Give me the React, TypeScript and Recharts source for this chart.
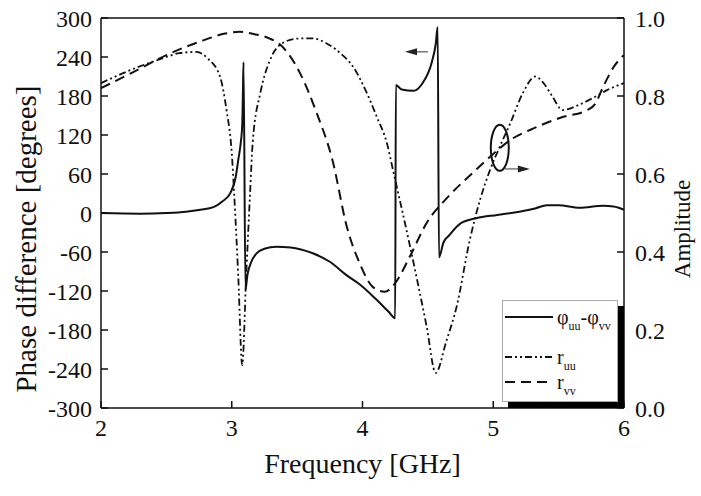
import React from "react";
import { LineChart, Line, XAxis, YAxis, Legend, ReferenceLine, ReferenceDot } from "recharts";

// ── data ───────────────────────────────────────────────────────────────────
const phaseFreq = [
  2.0, 2.3, 2.5, 2.65, 2.76, 2.86, 2.93, 2.99, 3.03, 3.05, 3.07, 3.08, 3.085, 3.09,
  3.105, 3.12, 3.15, 3.19, 3.25, 3.34, 3.45, 3.62, 3.75, 3.88, 3.98, 4.1, 4.2, 4.25,
  4.255, 4.3, 4.39, 4.46, 4.53, 4.56, 4.575, 4.585, 4.62, 4.66, 4.75, 4.87, 5.03,
  5.2, 5.32, 5.41, 5.5, 5.66, 5.84, 5.92, 6.0,
];
const phaseDeg = [
  0, -1, 0, 2, 5, 9, 18, 31, 55, 82, 110, 135, 180, 232,
  -118, -95, -75, -62, -55, -52, -53, -62, -75, -96, -110, -132, -152, -162,
  197, 190, 188, 200, 232, 260, 286, -68, -45, -35, -16, -8, -3,
  2, 7, 12, 12, 8, 11, 10, 5,
];

const ruuFreq = [
  2.0, 2.2, 2.37, 2.5, 2.6, 2.73, 2.82, 2.91, 2.96, 3.0, 3.02, 3.05, 3.08, 3.11, 3.14,
  3.16, 3.22, 3.29, 3.39, 3.5, 3.61, 3.67, 3.75, 3.83, 3.93, 4.03, 4.11, 4.19, 4.23,
  4.36, 4.49, 4.56, 4.64, 4.72, 4.82, 4.9, 4.975, 5.05, 5.13, 5.23, 5.32, 5.38, 5.45,
  5.53, 5.66, 5.79, 5.87, 6.0,
];
const ruuAmp = [
  0.833, 0.863, 0.885, 0.9, 0.91, 0.913, 0.895, 0.85, 0.764, 0.654, 0.54, 0.336, 0.11,
  0.336, 0.55, 0.68, 0.81, 0.89, 0.936, 0.947, 0.948, 0.944, 0.93, 0.91, 0.874, 0.81,
  0.746, 0.675, 0.615, 0.42, 0.21, 0.09, 0.17, 0.26, 0.43, 0.535, 0.61, 0.67, 0.73,
  0.81, 0.85, 0.835, 0.8, 0.764, 0.778, 0.8, 0.815, 0.833,
];

const rvvFreq = [
  2.0, 2.25, 2.5, 2.76, 2.95, 3.06, 3.15, 3.27, 3.37, 3.52, 3.65, 3.77, 3.88, 3.98, 4.08,
  4.17, 4.25, 4.36, 4.49, 4.65, 4.85, 4.975, 5.13, 5.33, 5.53, 5.72, 5.78, 5.84, 5.92,
  6.0,
];
const rvvAmp = [
  0.82, 0.862, 0.905, 0.94, 0.96, 0.965, 0.96, 0.95, 0.932, 0.86, 0.756, 0.636, 0.465,
  0.37, 0.31, 0.298, 0.32, 0.387, 0.474, 0.54, 0.605, 0.644, 0.687, 0.72, 0.746, 0.764,
  0.78, 0.823, 0.874, 0.905,
];

const freqTicks = [2, 3, 4, 5, 6];
const phaseTicks = [-300, -240, -180, -120, -60, 0, 60, 120, 180, 240, 300];
const ampTicks = [0, 0.2, 0.4, 0.6, 0.8, 1.0];

const phaseData = phaseFreq.map((f, i) => ({ f, v: phaseDeg[i] }));
const ruuData = ruuFreq.map((f, i) => ({ f, v: ruuAmp[i] }));
const rvvData = rvvFreq.map((f, i) => ({ f, v: rvvAmp[i] }));

const FONT = "'Liberation Serif', 'Times New Roman', serif";
const INK = "#111";
const tickStyle = { fontSize: 24, fill: INK, fontFamily: FONT };

const DASH_RUU = "7 3 2 3 2 3";
const DASH_RVV = "10 6";

function Arrow(p: any) {
  const { x1, y1, x2, y2 } = p;
  const dir = Math.sign(x2 - x1) || 1;
  return (
    <g>
      <line x1={x1} y1={y1} x2={x2 - dir * 8} y2={y2} stroke="#777" strokeWidth={1.5} />
      <polygon points={`${x2},${y2} ${x2 - dir * 12},${y2 - 3.5} ${x2 - dir * 12},${y2 + 3.5}`} fill="#222" />
    </g>
  );
}

function Ellipse(p: any) {
  return <ellipse cx={p.cx} cy={p.cy} rx={9} ry={23} fill="none" stroke={INK} strokeWidth={2} />;
}

const sub = { fontSize: 12, verticalAlign: "-6px", lineHeight: 0 } as const;

const legendLabels: Record<string, React.ReactNode> = {
  phase: (
    <>
      φ<span style={sub}>uu</span>-φ<span style={sub}>vv</span>
    </>
  ),
  ruu: (
    <>
      r<span style={sub}>uu</span>
    </>
  ),
  rvv: (
    <>
      r<span style={sub}>vv</span>
    </>
  ),
};
// top offset of each legend row inside the box
const legendRowTop = [6, 46, 71];

function LegendBox({ payload }: any) {
  return (
    <div
      style={{
        position: "relative",
        width: 116,
        height: 102,
        boxSizing: "border-box",
        border: "1px solid #aaa",
        background: "#fff",
        boxShadow: "6px 6px 0 #000",
        fontFamily: FONT,
        fontSize: 20,
        color: INK,
        overflow: "hidden",
      }}
    >
      {(payload || []).map((e: any, i: number) => (
        <div
          key={e.value}
          style={{
            position: "absolute",
            left: 0,
            top: legendRowTop[i],
            display: "flex",
            alignItems: "center",
            height: 20,
            whiteSpace: "nowrap",
          }}
        >
          <svg width={52} height={10} style={{ marginLeft: 2, flex: "none" }}>
            <line
              x1={0}
              y1={5}
              x2={48}
              y2={5}
              stroke={INK}
              strokeWidth={2}
              strokeDasharray={e.payload?.strokeDasharray}
            />
          </svg>
          <span style={{ lineHeight: "20px" }}>{legendLabels[e.value]}</span>
        </div>
      ))}
    </div>
  );
}

export default function App() {
  return (
    <div style={{ position: "absolute", left: 0, top: 0, background: "#fff" }}>
      <LineChart width={701} height={496} margin={{ top: 0, right: 0, bottom: 0, left: 0 }}>
        <XAxis
          xAxisId="top"
          orientation="top"
          type="number"
          dataKey="f"
          domain={[2, 6]}
          ticks={freqTicks}
          height={18}
          stroke={INK}
          strokeWidth={1.5}
          tickSize={-7}
          tick={() => <g />}
        />
        <XAxis
          type="number"
          dataKey="f"
          domain={[2, 6]}
          ticks={freqTicks}
          interval={0}
          height={88}
          stroke={INK}
          strokeWidth={1.5}
          tickSize={-7}
          tickMargin={18}
          tick={tickStyle}
          label={{
            content: ({ viewBox }: any) => (
              <text
                x={viewBox.x + viewBox.width / 2}
                y={473}
                textAnchor="middle"
                fontFamily={FONT}
                fontSize={28}
                fill={INK}
              >
                Frequency [GHz]
              </text>
            ),
          }}
        />
        <YAxis
          yAxisId="phase"
          type="number"
          domain={[-300, 300]}
          ticks={phaseTicks}
          interval={0}
          width={101}
          stroke={INK}
          strokeWidth={1.5}
          tickSize={-7}
          tickMargin={16}
          tick={tickStyle}
          allowDataOverflow
          label={{
            content: ({ viewBox }: any) => (
              <text
                transform={`translate(36, ${viewBox.y + viewBox.height / 2 + 26}) rotate(-90)`}
                textAnchor="middle"
                fontFamily={FONT}
                fontSize={29}
                fill={INK}
              >
                Phase difference [degrees]
              </text>
            ),
          }}
        />
        <YAxis
          yAxisId="amp"
          orientation="right"
          type="number"
          domain={[0, 1]}
          ticks={ampTicks}
          interval={0}
          width={77}
          stroke={INK}
          strokeWidth={1.5}
          tickSize={-7}
          tickMargin={18}
          tick={{ ...tickStyle, textAnchor: "start" }}
          tickFormatter={(v: number) => v.toFixed(1)}
          label={{
            content: () => (
              <text
                transform="translate(690, 229) rotate(-90)"
                textAnchor="middle"
                fontFamily={FONT}
                fontSize={23}
                fill={INK}
              >
                Amplitude
              </text>
            ),
          }}
        />

        <Line
          yAxisId="phase"
          data={phaseData}
          dataKey="v"
          name="phase"
          type="monotone"
          stroke={INK}
          strokeWidth={2}
          dot={false}
          isAnimationActive={false}
        />
        <Line
          yAxisId="amp"
          data={ruuData}
          dataKey="v"
          name="ruu"
          type="monotone"
          stroke={INK}
          strokeWidth={1.8}
          strokeDasharray={DASH_RUU}
          dot={false}
          isAnimationActive={false}
        />
        <Line
          yAxisId="amp"
          data={rvvData}
          dataKey="v"
          name="rvv"
          type="monotone"
          stroke={INK}
          strokeWidth={2}
          strokeDasharray={DASH_RVV}
          dot={false}
          isAnimationActive={false}
        />

        <ReferenceLine
          yAxisId="phase"
          segment={[{ x: 4.5, y: 248 }, { x: 4.325, y: 248 }]}
          shape={Arrow}
        />
        <ReferenceDot yAxisId="amp" x={5.05} y={0.667} shape={Ellipse} />
        <ReferenceLine
          yAxisId="amp"
          segment={[{ x: 5.09, y: 0.613 }, { x: 5.28, y: 0.613 }]}
          shape={Arrow}
        />

        <Legend
          layout="horizontal"
          verticalAlign="middle"
          align="center"
          content={LegendBox}
          wrapperStyle={{ position: "absolute", left: 502, top: 300, width: 116, height: 102 }}
        />
      </LineChart>
    </div>
  );
}
